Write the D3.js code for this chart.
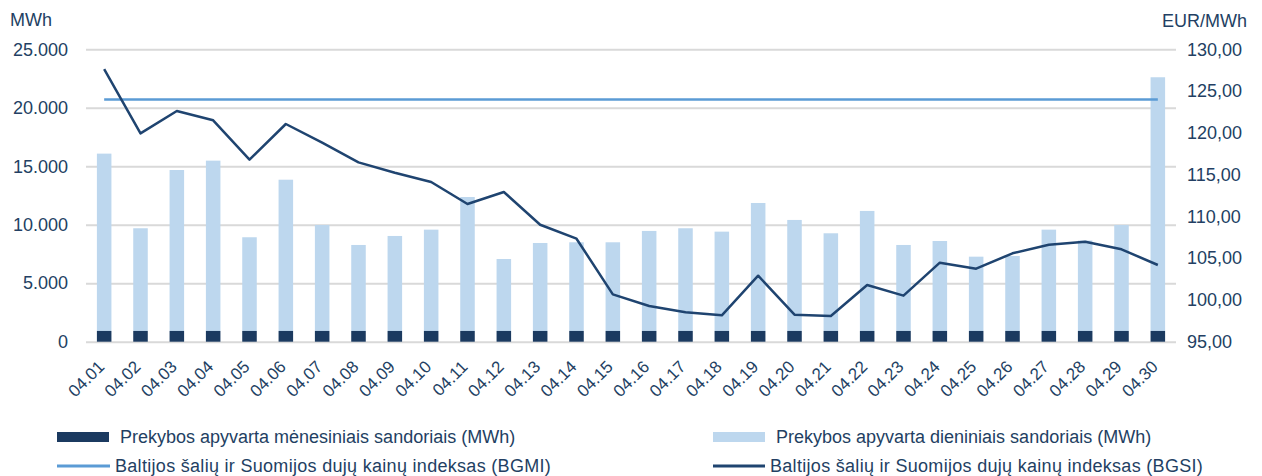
<!DOCTYPE html>
<html><head><meta charset="utf-8">
<script src="https://cdn.jsdelivr.net/npm/d3@7"></script>
<style>body{margin:0;background:#fff}svg{display:block;font-family:"Liberation Sans",Arial,sans-serif}</style>
</head><body><svg id="c" width="1262" height="476"></svg>
<script>
const categories = ["04.01","04.02","04.03","04.04","04.05","04.06","04.07","04.08","04.09","04.10","04.11","04.12","04.13","04.14","04.15","04.16","04.17","04.18","04.19","04.20","04.21","04.22","04.23","04.24","04.25","04.26","04.27","04.28","04.29","04.30"];
const monthly = [920,920,920,920,920,920,920,920,920,920,920,920,920,920,920,920,920,920,920,920,920,920,920,920,920,920,920,920,920,920];
const dailyTotal = [16080,9700,14680,15480,8930,13850,9980,8270,9040,9580,12370,7070,8440,8500,8500,9470,9700,9410,11860,10410,9270,11180,8270,8610,7270,7330,9580,8650,9980,22610];
const bgmi = [124.0,124.0,124.0,124.0,124.0,124.0,124.0,124.0,124.0,124.0,124.0,124.0,124.0,124.0,124.0,124.0,124.0,124.0,124.0,124.0,124.0,124.0,124.0,124.0,124.0,124.0,124.0,124.0,124.0,124.0];
const bgsi = [127.64,119.94,122.62,121.5,116.79,121.06,118.82,116.47,115.23,114.12,111.48,112.92,109.0,107.33,100.67,99.27,98.52,98.16,102.9,98.23,98.08,101.79,100.51,104.46,103.74,105.58,106.61,106.97,106.06,104.18];
const leftTicks = [0,5000,10000,15000,20000,25000];
const rightTicks = [95,100,105,110,115,120,125,130];
const legendLabels = ["Prekybos apyvarta mėnesiniais sandoriais (MWh)","Prekybos apyvarta dieniniais sandoriais (MWh)","Baltijos šalių ir Suomijos dujų kainų indeksas (BGMI)","Baltijos šalių ir Suomijos dujų kainų indeksas (BGSI)"];

const daily = dailyTotal.map((t,i)=>t-monthly[i]);
const C = {dark:"#1b3a60", light:"#bdd7ee", bgmi:"#5b9bd5", bgsi:"#1f4470", text:"#233f63", grid:"#d9d9d9"};
const svg = d3.select("#c");
const L=86, R=1176, T=49.3, B=341.7;
const x = d3.scaleBand().domain(categories).range([L,R]).paddingInner(0.6).paddingOuter(0.3);
const xc = d => x(d)+x.bandwidth()/2;
const yL = d3.scaleLinear().domain([0,25000]).range([B,T]);
const yR = d3.scaleLinear().domain([95,130]).range([B,T]);
const fmtL = v => d3.format(",")(v).replace(/,/g,".");
const fmtR = v => d3.format(".2f")(v).replace(".",",");

// gridlines
const gL = svg.append("g").attr("transform",`translate(${L},0)`)
  .call(d3.axisLeft(yL).tickValues(leftTicks).tickSize(-(R-L)).tickFormat(fmtL).tickPadding(18));
gL.select(".domain").remove();
gL.selectAll("line").attr("stroke",C.grid).attr("stroke-width",2);
gL.selectAll("text").attr("fill",C.text).style("font-size","18px");

const gR = svg.append("g").attr("transform",`translate(${R},0)`)
  .call(d3.axisRight(yR).tickValues(rightTicks).tickSize(0).tickFormat(fmtR).tickPadding(11));
gR.select(".domain").remove();
gR.selectAll("text").attr("fill",C.text).style("font-size","18px");

// stacked bars
const stackData = categories.map((c,i)=>({c, m:monthly[i], d:daily[i]}));
const series = d3.stack().keys(["m","d"])(stackData);
const colors = {m:C.dark, d:C.light};
svg.append("g").selectAll("g").data(series.slice().reverse()).join("g")
  .attr("fill",s=>colors[s.key])
  .selectAll("rect").data(s=>s).join("rect")
  .attr("x",d=>x(d.data.c)).attr("width",x.bandwidth())
  .attr("y",d=>yL(d[1])).attr("height",d=>yL(d[0])-yL(d[1]));

// lines
const line = d3.line().x((d,i)=>xc(categories[i])).y(d=>yR(d));
svg.append("path").datum(bgmi).attr("d",line).attr("fill","none").attr("stroke",C.bgmi).attr("stroke-width",2.5);
svg.append("path").datum(bgsi).attr("d",line).attr("fill","none").attr("stroke",C.bgsi).attr("stroke-width",2.5).attr("stroke-linejoin","round");

// x labels
const gx = svg.append("g");
gx.selectAll("text").data(categories).join("text")
  .attr("transform",d=>`translate(${xc(d)-3},${B+22}) rotate(-45)`)
  .attr("text-anchor","end").attr("fill",C.text).style("font-size","17px")
  .attr("dy","0.35em").text(d=>d);

// axis titles
svg.append("text").attr("x",10).attr("y",26).attr("fill",C.text).style("font-size","18px").text("MWh");
svg.append("text").attr("x",1247).attr("y",27).attr("text-anchor","end").attr("fill",C.text).style("font-size","18px").text("EUR/MWh");

// legend
const lg = svg.append("g").style("font-size","18px");
const items = [
  {x:57, w:52, y:437, type:"rect", color:C.dark, tx:120, ls:0, label:legendLabels[0]},
  {x:713, w:52, y:437, type:"rect", color:C.light, tx:776, ls:0, label:legendLabels[1]},
  {x:57, w:53, y:466, type:"line", color:C.bgmi, tx:115, ls:0.3, label:legendLabels[2]},
  {x:713, w:52, y:466, type:"line", color:C.bgsi, tx:770, ls:0.3, label:legendLabels[3]}
];
items.forEach(it=>{
  if(it.type==="rect") lg.append("rect").attr("x",it.x).attr("y",it.y-5).attr("width",it.w).attr("height",10).attr("fill",it.color);
  else lg.append("line").attr("x1",it.x).attr("x2",it.x+it.w).attr("y1",it.y).attr("y2",it.y).attr("stroke",it.color).attr("stroke-width",3);
  lg.append("text").attr("x",it.tx).attr("y",it.y).attr("dy","0.35em").attr("fill",C.text).style("letter-spacing",it.ls+"px").text(it.label);
});
</script></body></html>
